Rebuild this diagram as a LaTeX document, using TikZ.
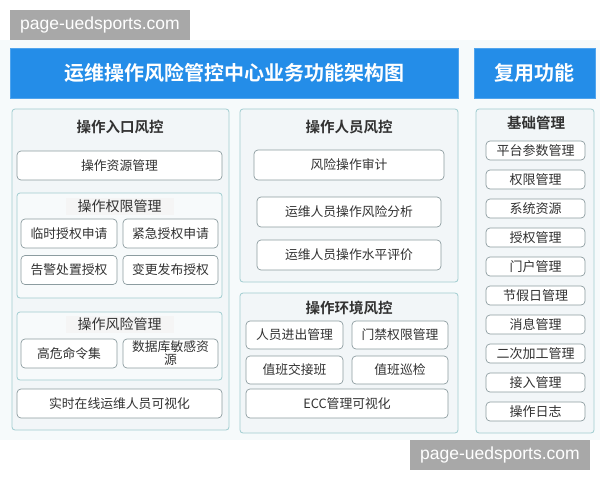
\documentclass[tikz,border=0pt]{standalone}
\usepackage{fontspec}
\setmainfont{Noto Sans CJK SC}[BoldFont={Noto Sans CJK SC Bold}]
\newfontfamily\markfont{Liberation Sans}
\usetikzlibrary{positioning}

\definecolor{barblue}{RGB}{36,141,232}
\definecolor{panelline}{RGB}{160,204,208}
\definecolor{panelfill}{RGB}{242,246,248}
\definecolor{boxline}{RGB}{140,156,160}
\definecolor{inktext}{RGB}{50,50,50}
\definecolor{pagebg}{RGB}{246,250,251}
\definecolor{markgray}{RGB}{168,168,168}

\begin{document}
\begin{tikzpicture}[
    x=1pt, y=-1pt,
    bar/.style={
        fill=barblue,
        draw=barblue!80!white,
        text=white,
        font=\bfseries\fontsize{20}{22}\selectfont,
        inner sep=0pt
    },
    panel/.style={
        draw=panelline,
        fill=panelfill,
        rounded corners=3pt,
        line width=0.8pt,
        inner sep=0pt
    },
    subpanel/.style={panel, fill=panelfill!60!white},
    head/.style={
        text=inktext,
        font=\bfseries\fontsize{14.5}{16}\selectfont
    },
    subhead/.style={
        text=inktext,
        font=\fontsize{14}{15}\selectfont,
        fill=black!4,
        inner xsep=12pt, inner ysep=2pt
    },
    item/.style={
        draw=boxline,
        fill=white,
        rounded corners=4pt,
        line width=0.7pt,
        align=center,
        text=inktext,
        font=\fontsize{12.8}{13.5}\selectfont,
        inner sep=0pt
    },
    tool/.style={item, minimum width=99pt, minimum height=19pt, font=\fontsize{13}{14}\selectfont},
    watermark/.style={
        fill=markgray,
        text=white,
        font=\markfont\fontsize{17.5}{19}\selectfont,
        minimum width=180pt, minimum height=30pt,
        inner sep=0pt
    }
]
\useasboundingbox (0,0) rectangle (600,480);
\fill[white] (0,0) rectangle (600,480);
\fill[pagebg] (0,40) rectangle (600,440);

% title bars
\node[bar, minimum width=448pt, minimum height=50pt] (maintitle) at (234,73) {运维操作风险管控中心业务功能架构图};
\node[bar, minimum width=121pt, minimum height=50pt] (reusetitle) at (534.5,73) {复用功能};

% panel: entry
\node[panel, minimum width=217pt, minimum height=321pt] (entry) at (120.5,269.5) {};
\node[head] (entryhead) at (120,127) {操作入口风控};
\node[item, minimum width=205pt, minimum height=29pt] (resmgmt) at (119.5,165.5) {操作资源管理};

\node[subpanel, minimum width=205pt, minimum height=105pt] (perm) at (119.5,245.5) {};
\node[subhead] (permhead) at (119.5,206) {操作权限管理};
\node[item, minimum width=96pt, minimum height=29pt] (tempauth) at (69,233.5) {临时授权申请};
\node[item, minimum width=95pt, minimum height=29pt] (urgauth) at (170.5,233.5) {紧急授权申请};
\node[item, minimum width=96pt, minimum height=29pt] (alarmauth) at (69,270) {告警处置授权};
\node[item, minimum width=95pt, minimum height=29pt] (relauth) at (170.5,270) {变更发布授权};

\node[subpanel, minimum width=205pt, minimum height=68pt] (risk) at (119.5,346) {};
\node[subhead] (riskhead) at (119.5,324) {操作风险管理};
\node[item, minimum width=96pt, minimum height=29pt] (highcmd) at (69,353.5) {高危命令集};
\node[item, minimum width=95pt, minimum height=29pt, font=\fontsize{12.8}{12.8}\selectfont] (dbres) at (170.5,353.5) {数据库敏感资\\源};

\node[item, minimum width=205pt, minimum height=29pt] (onlinevis) at (119.5,403.5) {实时在线运维人员可视化};

% panel: staff
\node[panel, minimum width=218pt, minimum height=173pt] (staff) at (349,195.5) {};
\node[head] (staffhead) at (349,127) {操作人员风控};
\node[item, minimum width=190pt, minimum height=30pt] (audit) at (349,165) {风险操作审计};
\node[item, minimum width=184pt, minimum height=30pt] (analysis) at (349,212) {运维人员操作风险分析};
\node[item, minimum width=184pt, minimum height=30pt] (rating) at (349,255) {运维人员操作水平评价};

% panel: environment
\node[panel, minimum width=218pt, minimum height=140pt] (env) at (349,363) {};
\node[head] (envhead) at (349,308) {操作环境风控};
\node[item, minimum width=97pt, minimum height=28pt] (access) at (294.5,335) {人员进出管理};
\node[item, minimum width=96pt, minimum height=28pt] (doorperm) at (400,335) {门禁权限管理};
\node[item, minimum width=97pt, minimum height=28pt] (handover) at (294.5,370) {值班交接班};
\node[item, minimum width=96pt, minimum height=28pt] (patrol) at (400,370) {值班巡检};
\node[item, minimum width=202pt, minimum height=29pt] (eccvis) at (347,403.5) {ECC管理可视化};

% panel: base management
\node[panel, minimum width=118pt, minimum height=324pt] (base) at (535,271) {};
\node[head] (basehead) at (536,123) {基础管理};
\foreach \txt [count=\i from 0] in {平台参数管理,权限管理,系统资源,授权管理,门户管理,节假日管理,消息管理,二次加工管理,接入管理,操作日志}
  \node[tool] (tool\i) at (535.5,150.5+29*\i) {\txt};

% watermarks
\node[watermark] (marktop) at (100,25) {page-uedsports.com};
\node[watermark] (markbottom) at (500,455) {page-uedsports.com};
\end{tikzpicture}
\end{document}
